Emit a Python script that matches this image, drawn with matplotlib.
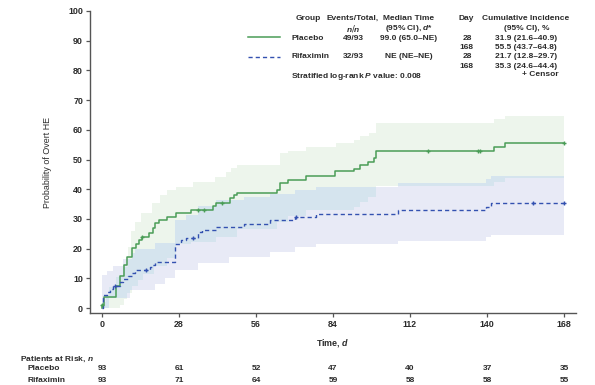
import numpy as np
import matplotlib
matplotlib.use("Agg")
from matplotlib import pyplot as plt
from matplotlib.lines import Line2D

plt.rcParams['font.family'] = ['Liberation Sans', 'DejaVu Sans']
plt.rcParams['mathtext.fontset'] = 'custom'
plt.rcParams['mathtext.it'] = 'Liberation Sans:italic:bold'

W, H = 595, 385
TXT = '#2b2b2b'
FS = 6.0
WT = 'bold'

# Kaplan-Meier style cumulative incidence (%), step times in days
placebo_t = [0, 0.7, 5, 6.5, 8, 9, 11, 12.4, 13.3, 14.5, 17, 18.4, 19.3, 20.7, 23.6, 27,
             32.5, 40.4, 41.5, 46.7, 48, 49, 63.8, 64.7, 67.6, 74, 84.8, 91.8, 93.9, 96.7,
             98.8, 99.8, 142.6, 146.6]
placebo_v = [1.1, 3.8, 7.5, 10.8, 14.4, 17.3, 20.1, 21.5, 23.0, 24.0, 25.3, 26.9, 28.5, 29.6,
             30.7, 31.9, 32.9, 34.3, 35.2, 36.9, 38.0, 38.8, 39.7, 42.0, 43.2, 44.6, 46.1, 46.8,
             48.1, 49.3, 50.4, 53.0, 54.3, 55.5]
placebo_cens_t = [0, 14.5, 35, 37, 43.8, 118.7, 136.6, 137.5, 168]
placebo_cens_v = [1.1, 24.0, 32.9, 32.9, 35.2, 53.0, 53.0, 53.0, 55.5]

rifax_t = [0, 0.5, 1.7, 2.9, 4.1, 6.5, 7.7, 9.6, 10.8, 12, 17.5, 18.2, 19.3, 26.6, 28.9, 30.7,
           35, 36.2, 41.5, 51.6, 61, 70, 77.7, 107.8, 139.6, 141.6]
rifax_v = [0, 4.3, 5.4, 6.5, 7.5, 8.6, 9.7, 10.8, 11.8, 12.9, 13.9, 14.5, 15.4, 21.7, 22.8, 23.6,
           25.7, 26.1, 27.2, 28.4, 29.5, 30.5, 31.6, 33.0, 34.1, 35.3]
rifax_cens_t = [4.6, 15.9, 33, 70.6, 156.8, 168]
rifax_cens_v = [7.5, 12.9, 23.6, 30.5, 35.3, 35.3]

# 95% CI bands (step edges)
pl_up_t = [0, 1.5, 2.6, 5, 7.5, 9.4, 10.6, 12, 14, 18, 21, 23.5, 27, 33, 41, 45, 47, 49,
           64.6, 67.6, 74, 85, 91.5, 94, 97, 99.8, 142.6, 146.6]
pl_up_v = [2, 4.4, 7.2, 10.5, 13.9, 20.6, 26, 29, 32, 35.3, 38, 39.7, 40.9, 42.5, 44.2, 45.9,
           47, 48.1, 52.1, 53, 54.3, 55.4, 56.6, 57.9, 58.8, 62.3, 63.5, 64.8]
pl_lo_t = [0, 6.5, 8, 9, 11, 13, 15, 19, 23.6, 27, 32.5, 41.5, 49, 63.8, 67.6, 74, 91.8,
           93.9, 96.7, 99.8, 142.6, 146.6]
pl_lo_v = [0, 1, 3, 5, 7.5, 9.5, 11.5, 14, 17, 21.6, 22.3, 24, 26.5, 29, 31, 33, 34.1, 35.8,
           37.5, 41.1, 42.3, 43.7]
rf_up_t = [0, 1.7, 4.1, 7.7, 10.8, 12, 19.3, 26.6, 30.7, 35, 41.5, 51.6, 61, 70, 77.7, 107.8,
           139.6, 141.6]
rf_up_v = [11, 12.5, 14, 16.5, 18.5, 20, 22, 29.7, 31.3, 34.5, 36.4, 37.5, 38.5, 39.7, 40.8,
           42, 43.3, 44.4]
rf_lo_t = [0, 2.5, 10, 19.3, 23, 26.6, 35, 46, 61, 70, 77.7, 107.8, 139.6, 141.6]
rf_lo_v = [0, 3.4, 6, 8, 10, 12.8, 15.1, 17.3, 19.0, 20.4, 21.4, 22.7, 23.8, 24.6]

x_ticks = [0, 28, 56, 84, 112, 140, 168]
risk_placebo = [93, 61, 52, 47, 40, 37, 35]
risk_rifax = [93, 71, 64, 59, 58, 58, 55]

GREEN = '#4a9d57'
BLUE = '#3351b0'
GREEN_BAND = '#edf5ec'
BLUE_BAND = '#e8eaf6'
BOTH_BAND = '#d5e4ee'


def step_eval(ts, vs, grid):
    idx = np.searchsorted(ts, grid, side='right') - 1
    return np.asarray(vs)[np.clip(idx, 0, None)]


fig = plt.figure(figsize=(W / 100, H / 100), dpi=100)
ax = fig.add_axes([90 / W, 1 - 313 / H, (576 - 90) / W, (313 - 11) / H])

grid = np.unique(np.concatenate([pl_up_t, pl_lo_t, rf_up_t, rf_lo_t, [168]]))
gu = step_eval(pl_up_t, pl_up_v, grid)
gl = step_eval(pl_lo_t, pl_lo_v, grid)
bu = step_eval(rf_up_t, rf_up_v, grid)
bl = step_eval(rf_lo_t, rf_lo_v, grid)
ov_lo = np.maximum(gl, bl)
ov_hi = np.minimum(gu, bu)

ax.fill_between(grid, gl, gu, step='post', color=GREEN_BAND, lw=0)
ax.fill_between(grid, bl, bu, step='post', color=BLUE_BAND, lw=0)
ax.fill_between(grid, ov_lo, np.maximum(ov_hi, ov_lo), step='post', color=BOTH_BAND, lw=0)

ax.step([0] + placebo_t + [168], [0] + placebo_v + [placebo_v[-1]], where='post',
        color=GREEN, lw=1.1)
ax.step(rifax_t + [168], rifax_v + [rifax_v[-1]], where='post',
        color=BLUE, lw=1.0, ls=(0, (3, 2.2)))
ax.plot(placebo_cens_t, placebo_cens_v, '+', color=GREEN, ms=3.5, mew=1)
ax.plot(rifax_cens_t, rifax_cens_v, '+', color=BLUE, ms=3.5, mew=1)

ax.set_xlim(-12 / 2.75, 168 + 12 / 2.75)
ax.set_ylim(-5 / 2.97, 100)
ax.set_xticks(x_ticks)
ax.set_yticks(range(0, 101, 10))
for s in ['top', 'right']:
    ax.spines[s].set_visible(False)
for s in ['left', 'bottom']:
    ax.spines[s].set_color('#555555')
    ax.spines[s].set_linewidth(1.0)
ax.tick_params(length=3, width=0.9, color='#555555', labelsize=FS + 0.4, labelcolor=TXT, pad=2)
for lab in ax.get_xticklabels() + ax.get_yticklabels():
    lab.set_fontweight(WT)
ax.set_ylabel('Probability of Overt HE', fontsize=FS + 0.4, color=TXT, labelpad=12)
ax.set_xlabel('Time, $\\mathit{d}$', fontsize=FS + 0.4, color=TXT, fontweight=WT, labelpad=6)


def ftext(x, y, s, **kw):
    kw.setdefault('fontsize', FS)
    kw.setdefault('color', TXT)
    kw.setdefault('fontweight', WT)
    fig.text(x / W, 1 - y / H, s, va='center', **kw)


# at-risk table
ftext(20, 359, 'Patients at Risk, $\\mathit{n}$')
ftext(28, 369, 'Placebo')
ftext(28, 380, 'Rifaximin')
for xt, a, b in zip(x_ticks, risk_placebo, risk_rifax):
    xp = ax.transData.transform((xt, 0))[0]
    ftext(xp, 369, str(a), ha='center')
    ftext(xp, 380, str(b), ha='center')

# legend table
ftext(308, 18.5, 'Group', ha='center')
ftext(353, 18.5, 'Events/Total,', ha='center')
ftext(353, 28.5, '$\\mathit{n/n}$', ha='center')
ftext(409, 18.5, 'Median Time', ha='center')
ftext(409, 28.5, '(95% CI), $\\mathit{d}$*', ha='center')
ftext(466, 18.5, 'Day', ha='center')
ftext(526, 18.5, 'Cumulative Incidence', ha='center')
ftext(527, 28.5, '(95% CI), %', ha='center')

rows = [
    (38, 47.5, 'Placebo', '49/93', '99.0 (65.0–NE)', '31.9 (21.6–40.9)', '55.5 (43.7–64.8)'),
    (57, 66.5, 'Rifaximin', '32/93', 'NE (NE–NE)', '21.7 (12.8–29.7)', '35.3 (24.6–44.4)'),
]
for y1, y2, g, ev, med, c28, c168 in rows:
    ftext(291, y1, g)
    ftext(353, y1, ev, ha='center')
    ftext(409, y1, med, ha='center')
    ftext(467, y1, '28', ha='center')
    ftext(466, y2, '168', ha='center')
    ftext(526, y1, c28, ha='center')
    ftext(526, y2, c168, ha='center')

fig.add_artist(Line2D([248 / W, 280 / W], [1 - 37 / H] * 2, color=GREEN, lw=1.1))
fig.add_artist(Line2D([248 / W, 280 / W], [1 - 57 / H] * 2, color=BLUE, lw=1.0,
                      ls=(0, (3, 2.2))))
ftext(291, 76.5, 'Stratified log-rank $\\mathit{P}$ value: 0.008')
ftext(540, 75, '+ Censor', ha='center')

fig.savefig('out.png', dpi=100)
